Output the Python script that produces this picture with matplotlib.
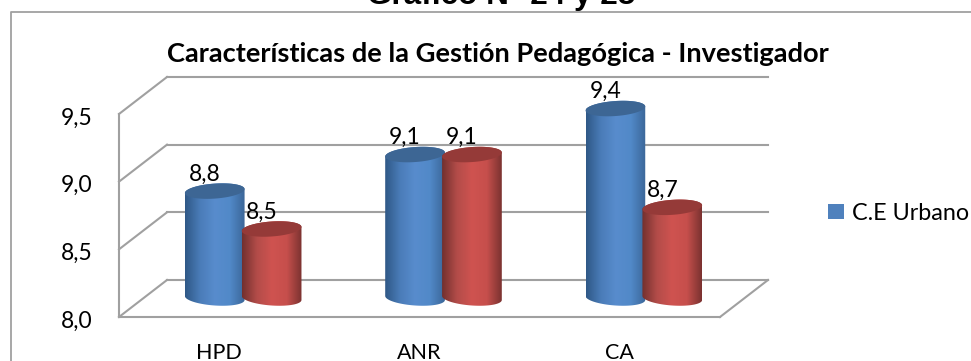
import matplotlib
matplotlib.use('Agg')
import matplotlib.pyplot as plt
from matplotlib.colors import LinearSegmentedColormap
from matplotlib.lines import Line2D
from matplotlib.patches import Patch, PathPatch, Polygon
from matplotlib.path import Path
from matplotlib.transforms import ScaledTranslation
import numpy as np

categories = ['HPD', 'ANR', 'CA']
urbano = [8.79, 9.06, 9.40]
otro = [8.51, 9.06, 8.67]
y_ticks = [8.0, 8.5, 9.0, 9.5]
legend_label = 'C.E Urbano'
chart_title = 'Características de la Gestión Pedagógica - Investigador'
page_title = 'Gráfico N° 24 y 25'

W, H = 971, 361
DPI = 100
GRID = '#a0a0a0'
BLUE = ['#2f5886', '#4a7cb8', '#588ccd', '#5189c8', '#3b6698']
RED = ['#72302e', '#b34c49', '#cf5350', '#c64f4c', '#7a3230']
BLUE_CAP = '#3d6694'
RED_CAP = '#953a38'
FONT = 'Lato'


def px(n):
    return n / DPI


def cylinder_outline(x, value, half_w, half_h, tilt):
    # bottom half of the base, then the top half of the cap
    t = np.linspace(np.pi, 2 * np.pi, 40)
    lower = np.c_[x + half_w * np.cos(t), 8.0 + half_h * np.sin(t) - tilt * np.cos(t)]
    t = np.linspace(0, np.pi, 40)
    upper = np.c_[x + half_w * np.cos(t), value + half_h * np.sin(t) + tilt * np.cos(t)]
    return np.r_[lower, upper]


def cap_outline(x, value, half_w, half_h, tilt):
    t = np.linspace(0, 2 * np.pi, 80)
    return np.c_[x + half_w * np.cos(t), value + half_h * np.sin(t) + tilt * np.cos(t)]


def draw_cylinder(ax, x, value, stops, cap, shift):
    half_w = 0.149
    half_h = 7.5 / 135.3
    tilt = 2.0 / 135.3
    cmap = LinearSegmentedColormap.from_list('shade', stops)
    outline = cylinder_outline(x, value, half_w, half_h, tilt)
    clip = PathPatch(Path(outline), transform=ax.transData + shift, facecolor='none', edgecolor='none')
    im = ax.imshow(np.linspace(0, 1, 256)[None, :], cmap=cmap, aspect='auto', zorder=3,
                   extent=(x - half_w, x + half_w, 8.0 - 2 * half_h, value + 2 * half_h),
                   transform=ax.transData + shift)
    im.set_clip_path(clip)
    im.set_clip_box(ax.figure.bbox)
    ax.add_patch(Polygon(cap_outline(x, value, half_w, half_h, tilt), closed=True, facecolor=cap,
                         edgecolor='none', transform=ax.transData + shift, clip_on=False, zorder=3))


fig = plt.figure(figsize=(W / DPI, H / DPI), dpi=DPI)
ax = fig.add_axes([119 / W, 1 - 317 / H, (720 - 119) / W, (317 - 114) / H])
ax.patch.set_visible(False)

# frame of the page, runs off the picture at the right and the bottom
fig.add_artist(Line2D([11 / W, 11 / W, 1], [0, 1 - 12 / H, 1 - 12 / H], color=GRID, lw=1.3))
fig.text(501 / W, 1 - 4 / H, page_title, family='Liberation Sans', weight='bold', fontsize=22.7,
         ha='center', va='baseline', color='black')
fig.text(498 / W, 1 - 54 / H, chart_title, family=FONT, weight='bold', fontsize=19.6,
         ha='center', va='center', color='black')

x = np.arange(len(categories))
rear = ScaledTranslation(px(48), px(37), fig.dpi_scale_trans)
middle = ScaledTranslation(px(24), px(19), fig.dpi_scale_trans)

# walls: rear lines, side diagonals, front floor edge
for tick in y_ticks:
    ax.plot([-0.5, 2.5], [tick, tick], color=GRID, lw=1.5, transform=ax.transData + rear, clip_on=False, zorder=1)
    ax.plot([-0.5, -0.5 + 48 / 200.33], [tick, tick + 37 / 135.3], color=GRID, lw=1.5, clip_on=False, zorder=1)
ax.plot([-0.5, -0.5], [y_ticks[0], y_ticks[-1]], color=GRID, lw=1.5, clip_on=False, zorder=1)
ax.plot([-0.5, 2.5], [8.0, 8.0], color=GRID, lw=1.5, clip_on=False, zorder=1)
ax.plot([2.5, 2.5 + 48 / 200.33], [8.0, 8.0 + 37 / 135.3], color=GRID, lw=1.5, clip_on=False, zorder=1)

offset = 0.142
for i in x:
    draw_cylinder(ax, i - offset, urbano[i], BLUE, BLUE_CAP, middle)
    draw_cylinder(ax, i + offset, otro[i], RED, RED_CAP, middle)

for i in x:
    for pos, val in ((i - offset, urbano[i]), (i + offset, otro[i])):
        ax.annotate(f'{val:.1f}'.replace('.', ','), (pos, val), xycoords=ax.transData + middle,
                    xytext=(-10, 17), textcoords='offset pixels', ha='center', va='center',
                    family=FONT, fontsize=16.5, color='black', zorder=5, annotation_clip=False)

ax.set_xlim(-0.5, 2.5)
ax.set_ylim(8.0, 9.5)
ax.set_xticks(x)
ax.set_xticklabels(categories, family=FONT, fontsize=15.5)
ax.set_yticks(y_ticks)
ax.set_yticklabels([f'{t:.1f}'.replace('.', ',') for t in y_ticks], family=FONT, fontsize=16.5)
ax.tick_params(axis='both', length=0)
ax.tick_params(axis='x', pad=19)
ax.tick_params(axis='y', pad=19)
label_shift = ScaledTranslation(0, -px(2), fig.dpi_scale_trans)
for label in ax.get_yticklabels():
    label.set_transform(label.get_transform() + label_shift)
for spine in ax.spines.values():
    spine.set_visible(False)

handle = Patch(facecolor='#4f81bd', edgecolor='none')
fig.legend([handle], [legend_label], loc='center left', bbox_to_anchor=(826 / W, 1 - 213 / H), frameon=False,
           prop={'family': FONT, 'size': 16.8}, handlelength=0.65, handleheight=0.65, handletextpad=0.35,
           borderpad=0.1, borderaxespad=0)

fig.savefig('out.png', dpi=DPI)
